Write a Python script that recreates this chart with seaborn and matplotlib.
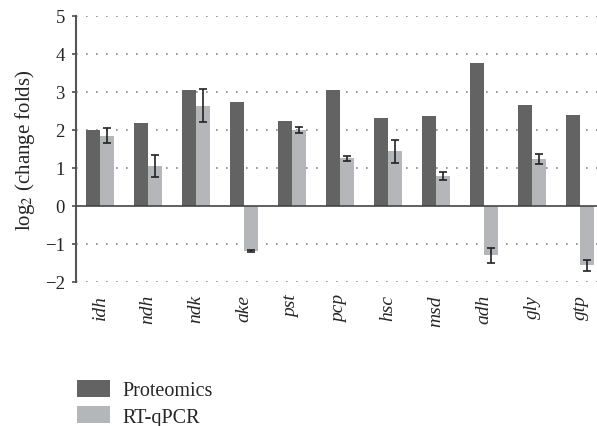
import numpy as np
import pandas as pd
import matplotlib
matplotlib.use("Agg")
import matplotlib.pyplot as plt
import seaborn as sns
from matplotlib.patches import Patch

genes = ["idh", "ndh", "ndk", "ake", "pst", "pcp", "hsc", "msd", "adh", "gly", "gtp"]
proteomics = [2.00, 2.18, 3.05, 2.74, 2.23, 3.05, 2.31, 2.37, 3.76, 2.66, 2.39]
rt_qpcr = [1.85, 1.05, 2.64, -1.19, 2.00, 1.25, 1.44, 0.78, -1.30, 1.23, -1.57]
rt_qpcr_err = [0.20, 0.30, 0.44, 0.03, 0.08, 0.07, 0.30, 0.10, 0.20, 0.13, 0.14]
series = ["Proteomics", "RT-qPCR"]
colors = ["#636363", "#b5b6b9"]

sns.set_theme(style="white")
plt.rcParams["font.family"] = ["Liberation Serif", "DejaVu Serif"]
plt.rcParams["mathtext.fontset"] = "stix"

df = pd.DataFrame({
    "gene": genes * 2,
    "value": proteomics + rt_qpcr,
    "series": [series[0]] * len(genes) + [series[1]] * len(genes),
})

fig = plt.figure(figsize=(5.97, 4.27), dpi=100)
ax = fig.add_axes([76 / 597, 1 - 282.7 / 427, (597 - 76) / 597, (282.7 - 17) / 427])

sns.barplot(data=df, x="gene", y="value", hue="series", palette=colors,
            width=0.58, errorbar=None, saturation=1, ax=ax, legend=False,
            edgecolor="none")

# error bars on the RT-qPCR bars
rt_bars = ax.patches[len(genes):2 * len(genes)]
xs = [p.get_x() + p.get_width() / 2 for p in rt_bars]
ax.errorbar(xs, rt_qpcr, yerr=rt_qpcr_err, fmt="none", ecolor="#222222",
            elinewidth=1.2, capsize=3, capthick=1.2, zorder=5)

ax.set_ylim(-2, 5)
ax.set_xlim(-0.5, 10.35)
ax.set_yticks(range(-2, 6))
ax.set_yticklabels(["\u22122", "\u22121", "0", "1", "2", "3", "4", "5"], fontsize=13.5)
for y in [-2, -1, 1, 2, 3, 4, 5]:
    ax.axhline(y, color="#888888", lw=1.2, ls=(0, (1, 5)), zorder=0)
ax.axhline(0, color="#444444", lw=1.2, zorder=3)

ax.set_xlabel("")
ax.set_ylabel(r"log$_2$ (change folds)", fontsize=15, labelpad=6)
ax.set_xticks(range(len(genes)))
ax.set_xticklabels(genes, rotation=90, style="italic", fontsize=14)
ax.tick_params(axis="x", length=0, pad=9)
ax.tick_params(axis="y", direction="out", length=3, color="#555555", left=True, pad=5)

for side in ["top", "right", "bottom"]:
    ax.spines[side].set_visible(False)
ax.spines["left"].set_color("#555555")
ax.spines["left"].set_linewidth(1.5)

handles = [Patch(facecolor=c, edgecolor="none") for c in colors]
fig.legend(handles, series, loc="upper left", bbox_to_anchor=(77 / 597, 1 - 381 / 427),
           frameon=False, fontsize=14.5, handlelength=1.65, handleheight=0.9,
           labelspacing=0.3, handletextpad=0.6, borderpad=0, borderaxespad=0)

fig.savefig("out.png", dpi=100)
